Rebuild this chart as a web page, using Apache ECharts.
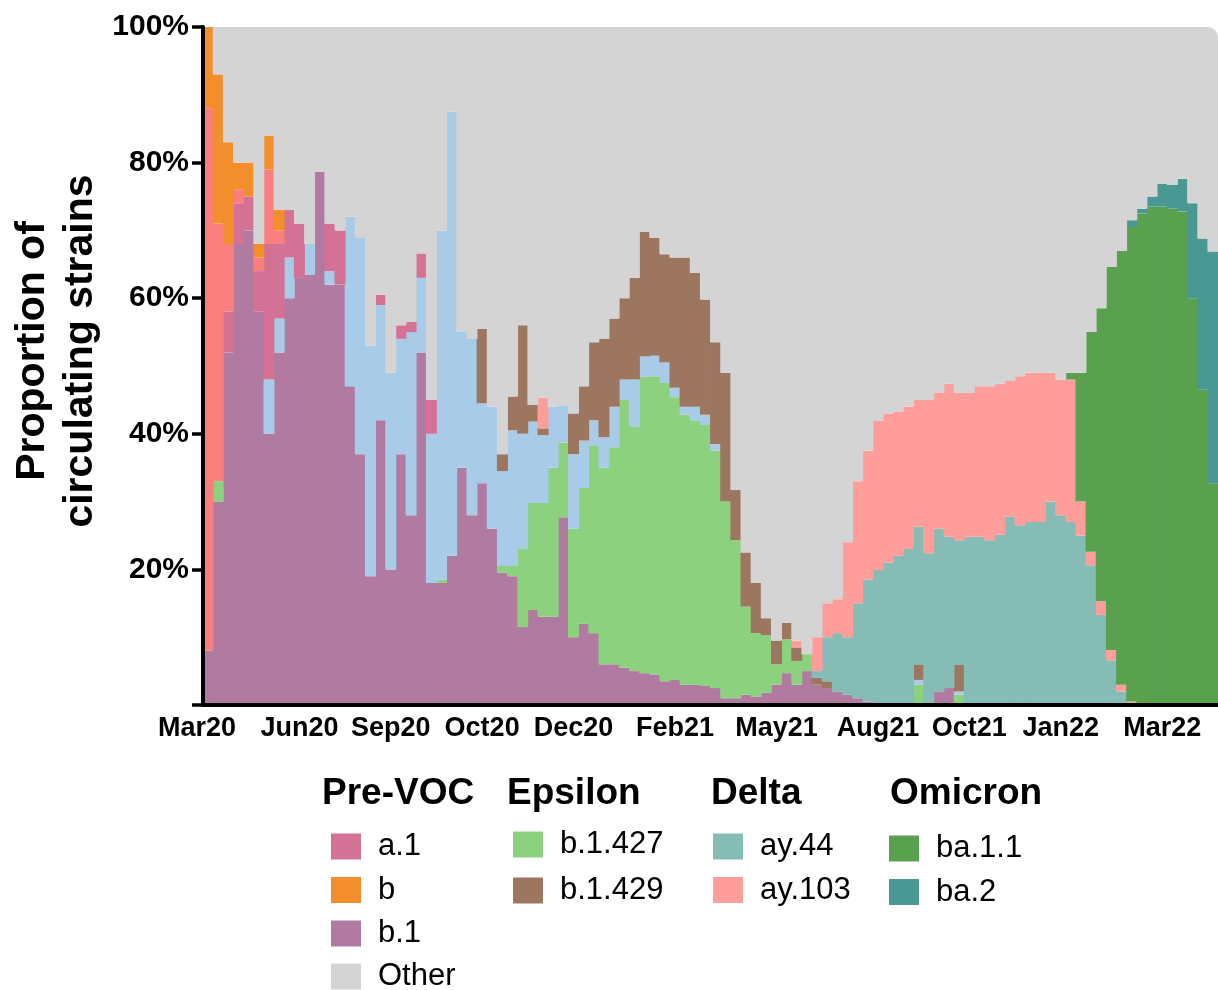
<!DOCTYPE html>
<html>
<head>
<meta charset="utf-8">
<script src="https://cdn.jsdelivr.net/npm/echarts@6/dist/echarts.min.js"></script>
<style>
html,body{margin:0;padding:0;background:#ffffff;}
#chart{width:1218px;height:990px;}
</style>
</head>
<body>
<div id="chart"></div>
<script>
// ---- data ----
const periods = Array.from({length: 100}, (_, i) => String(i + 1));
const tickLabels  = ['Mar20','Jun20','Sep20','Oct20','Dec20','Feb21','May21','Aug21','Oct21','Jan22','Mar22'];
const tickPeriods = [0, 9, 18, 27, 36, 46, 56, 66, 75, 84, 94];

const b1 = [8,30,52,68,70,58,40,52,60,63, 63.5,78.6,62,62,47,37,19,42,20,37,
  28,52,18,18,22,35,28,32.7,26,19.5, 19,11.5,14,13,13,27.7,10,12,10.6,6,
  6,5.5,5,4.7,4.5,3.5,3.7,3,3,2.8, 2.5,1,1,1.5,1.2,1.8,3,4.7,3,5,
  3,2.5,2,1.5,1,0.5,0,0,0,0, 0,0,2,2.5,0,0,0,0,0,0,
  0,0,0,0,0,0,0,0,0,0, 0,0,0,0,0,0,0,0,0,0];
const b1427 = [0,3,0,0,0,0,0,0,0,0, 0,0,0,0,0,0,0,0,0,0,
  0,0,0,0.5,0,0,0,0,0,1, 1.5,11.5,15.8,16.8,22,11,16,20,27.7,29,
  32,39.5,36,43.7,44,44,41.7,39.8,39,38.5, 35,29,23.3,13,9.4,8.5,3,5,3.5,2.5,
  0,0,0,0,0,0,0,0,0,0, 3,0,0,0,1.5,0,0,0,0,0,
  0,0,0,0,0,0,0,0,0,0, 0,0,0,0,0,0,0,0,0,0];
const b1x = [0,0,0,0,0,0,8,5,6,0, 4.5,0,2,0,25,32,34,17,29,17,
  27,11,22,51.5,65.5,20,26,11.8,18,14, 20,17,12,10,9,5.5,11,7,3.7,4.5,
  6,3,7,3,3,3,1.4,1.2,2,1.5, 1,0,0,0,0,0,0,0,0,0,
  0,0,0,0,0,0,0,0,0,0, 0.7,0,0,0,0.5,0,0,0,0,0,
  0,0,0,0,0,0,0,0,0,0, 0,0,0,0,0,0,0,0,0,0];
const a1 = [0,0,6,6,5,6,20,11,7,8, 0,0,7,8,0,0,0,1.5,0,2,
  1.5,3.6,5,0,0,0,0,0,0,0, 0,0,0,0,0,0,0,0,0,0,
  0,0,0,0,0,0,0,0,0,0, 0,0,0,0,0,0,0,0,0,0,
  0,0,0,0,0,0,0,0,0,0, 0,0,0,0,0,0,0,0,0,0,
  0,0,0,0,0,0,0,0,0,0, 0,0,0,0,0,0,0,0,0,0];
const aLin = [80,38,10,2,0,2,11,2,0,0, 0,0,0,0,0,0,0,0,0,0,
  0,0,0,0,0,0,0,0,0,0, 0,0,0,0,0,0,0,0,0,0,
  0,0,0,0,0,0,0,0,0,0, 0,0,0,0,0,0,0,0,0,0,
  0,0,0,0,0,0,0,0,0,0, 0,0,0,0,0,0,0,0,0,0,
  0,0,0,0,0,0,0,0,0,0, 0,0,0,0,0,0,0,0,0,0];
const bLin = [12,22,15,4,5,2,5,3,0,0, 0,0,0,0,0,0,0,0,0,0,
  0,0,0,0,0,0,0,0,0,0, 0,0,0,0,0,0,0,0,0,0,
  0,0,0,0,0,0,0,0,0,0, 0,0,0,0,0,0,0,0,0,0,
  0,0,0,0,0,0,0,0,0,0, 0,0,0,0,0,0,0,0,0,0,
  0,0,0,0,0,0,0,0,0,0, 0,0,0,0,0,0,0,0,0,0];
const b1429 = [0,0,0,0,0,0,0,0,0,0, 0,0,0,0,0,0,0,0,0,0,
  0,0,0,0,0,0,0,11,0,2.5, 5,16,2.5,1,0,0,6,8,11.5,14.5,
  13,12,15,18.4,17.4,16,19.2,22,19.7,17, 15,19,7.4,8,7.4,2.5,3.5,2.4,2,0,
  1,1,0,0,0,0,0,0,0,0, 2.2,0,0,0,3.9,0,0,0,0,0,
  0,0,0,0,0,0,0,0,0,0, 0,0,0,0,0,0,0,0,0,0];
const ay44 = [0,0,0,0,0,0,0,0,0,0, 0,0,0,0,0,0,0,0,0,0,
  0,0,0,0,0,0,0,0,0,0, 0,0,0,0,0,0,0,0,0,0,
  0,0,0,0,0,0,0,0,0,0, 0,0,0,0,0,0,0,0,0,0,
  1,6.5,8.6,8.5,14,18,19.9,21,22,23, 20.4,22.4,24,22.3,18.4,24.8,24.8,24.3,25.1,27.8,
  26.5,27,27,30,28,27,25,20.6,13.3,6.6, 2,0,0,0,0,0,0,0,0,0];
const ay103 = [0,0,0,0,0,0,0,0,0,0, 0,0,0,0,0,0,0,0,0,0,
  0,0,0,0,0,0,0,0,0,0, 0,0,0,4.5,0,0,0,0,0,0,
  0,0,0,0,0,0,0,0,0,0, 0,0,0,0,0,0,0,0,1,0,
  5,5,5,14,18,19,22,22,21.3,21, 18.7,22.6,20,22.6,21.7,21.2,22.2,22.7,22.3,20,
  22,22,22,19,20,21,5,2,2,1.5, 1,0.5,0,0,0,0,0,0,0,0];
const ba11 = [0,0,0,0,0,0,0,0,0,0, 0,0,0,0,0,0,0,0,0,0,
  0,0,0,0,0,0,0,0,0,0, 0,0,0,0,0,0,0,0,0,0,
  0,0,0,0,0,0,0,0,0,0, 0,0,0,0,0,0,0,0,0,0,
  0,0,0,0,0,0,0,0,0,0, 0,0,0,0,0,0,0,0,0,0,
  0,0,0,0,0,1,19,32.4,43.2,56.5, 64,70,72.5,73.5,73.5,73.2,72.8,60,46.5,32.7];
const ba2 = [0,0,0,0,0,0,0,0,0,0, 0,0,0,0,0,0,0,0,0,0,
  0,0,0,0,0,0,0,0,0,0, 0,0,0,0,0,0,0,0,0,0,
  0,0,0,0,0,0,0,0,0,0, 0,0,0,0,0,0,0,0,0,0,
  0,0,0,0,0,0,0,0,0,0, 0,0,0,0,0,0,0,0,0,0,
  0,0,0,0,0,0,0,0,0,0, 0,1,0.7,1.5,3.4,3.5,4.8,14,22.3,34.2];

// ---- series definitions (bottom to top) ----
const lineages = [
  {name: 'b.1',     values: b1,    color: '#B07AA1'},
  {name: 'b.1.427', values: b1427, color: '#8CD17D'},
  {name: 'b.1.x',   values: b1x,   color: '#A8CBE8'},
  {name: 'a.1',     values: a1,    color: '#D37295'},
  {name: 'a',       values: aLin,  color: '#F97F7E'},
  {name: 'b',       values: bLin,  color: '#F28E2B'},
  {name: 'b.1.429', values: b1429, color: '#9D7660'},
  {name: 'ay.44',   values: ay44,  color: '#86BCB6'},
  {name: 'ay.103',  values: ay103, color: '#FF9D9A'},
  {name: 'ba.1.1',  values: ba11,  color: '#59A14F'},
  {name: 'ba.2',    values: ba2,   color: '#499894'}
];
const otherValues = periods.map((_, i) => {
  let s = 0; lineages.forEach(l => { s += l.values[i]; });
  return Math.max(0, +(100 - s).toFixed(2));
});

const FONT = '"Liberation Sans", Arial, Helvetica, sans-serif';
const BAR_W = 11;
const series = lineages.map(l => ({
  name: l.name, type: 'bar', stack: 'all',
  barWidth: BAR_W,
  itemStyle: {color: l.color, borderWidth: 0},
  emphasis: {disabled: true},
  data: l.values.map(v => v > 0 ? v : '-')
}));
series.push({
  name: 'Other', type: 'bar', stack: 'all',
  barWidth: BAR_W,
  itemStyle: {color: '#D4D4D4', borderWidth: 0},
  emphasis: {disabled: true},
  data: otherValues.map((v, i) => {
    if (!(v > 0)) return '-';
    if (i === otherValues.length - 1) return {value: v, itemStyle: {borderRadius: [0, 14, 0, 0]}};
    return v;
  })
});

const legendCommon = {
  orient: 'vertical', icon: 'rect', itemWidth: 30, itemHeight: 26, itemGap: 12.5,
  padding: 0, selectedMode: false,
  itemStyle: {borderWidth: 0},
  textStyle: {fontFamily: FONT, fontSize: 31, color: '#000', padding: [0, 0, 0, 12]}
};

const chart = echarts.init(document.getElementById('chart'), null, {renderer: 'canvas'});
chart.setOption({
  animation: false,
  backgroundColor: '#ffffff',
  grid: {left: 203, right: 0, top: 27, bottom: 285, containLabel: false},
  xAxis: {
    type: 'category', data: periods, z: 10,
    axisLine: {show: true, lineStyle: {color: '#000', width: 4}},
    axisTick: {show: false},
    splitLine: {show: false},
    axisLabel: {
      interval: (idx) => tickPeriods.indexOf(idx) >= 0,
      formatter: (val, idx) => {
        const k = tickPeriods.indexOf(idx);
        if (k < 0) return '';
        return k === 0 ? '{first|' + tickLabels[k] + '}' : tickLabels[k];
      },
      rich: {first: {fontFamily: FONT, fontSize: 27, fontWeight: 'bold', color: '#000', padding: [0, 22, 0, 0]}},
      fontFamily: FONT, fontSize: 27, fontWeight: 'bold', color: '#000', margin: 10
    }
  },
  yAxis: {
    type: 'value', min: 0, max: 100, interval: 20, z: 10,
    axisLine: {show: true, lineStyle: {color: '#000', width: 4}},
    axisTick: {show: true, length: 11, lineStyle: {color: '#000', width: 3.5}},
    splitLine: {show: false},
    axisLabel: {
      formatter: (v) => v === 0 ? '' : v + '%',
      fontFamily: FONT, fontSize: 30, fontWeight: 'bold', color: '#000', margin: 14
    }
  },
  legend: [
    Object.assign({data: ['a.1', 'b', 'b.1'], left: 331, top: 831}, legendCommon),
    Object.assign({data: ['Other'], left: 331, top: 961}, legendCommon),
    Object.assign({data: ['b.1.427', 'b.1.429'], left: 513, top: 829, itemGap: 15}, legendCommon, {itemGap: 15}),
    Object.assign({data: ['ay.44', 'ay.103'], left: 713, top: 831}, legendCommon),
    Object.assign({data: ['ba.1.1', 'ba.2'], left: 889, top: 833}, legendCommon)
  ],
  graphic: [
    {type: 'text', left: 322, top: 775, z: 100, style: {text: 'Pre-VOC', font: 'bold 37px ' + FONT, fill: '#000'}},
    {type: 'text', left: 507, top: 775, z: 100, style: {text: 'Epsilon', font: 'bold 37px ' + FONT, fill: '#000'}},
    {type: 'text', left: 711, top: 775, z: 100, style: {text: 'Delta', font: 'bold 37px ' + FONT, fill: '#000'}},
    {type: 'text', left: 890, top: 775, z: 100, style: {text: 'Omicron', font: 'bold 37px ' + FONT, fill: '#000'}},
    {type: 'text', x: 57, y: 351, rotation: Math.PI / 2, z: 100,
      style: {text: 'Proportion of\ncirculating strains', font: 'bold 41px ' + FONT, fill: '#000',
        align: 'center', verticalAlign: 'middle', textAlign: 'center', textVerticalAlign: 'middle', lineHeight: 48}}
  ],
  series: series
});
</script>
</body>
</html>
